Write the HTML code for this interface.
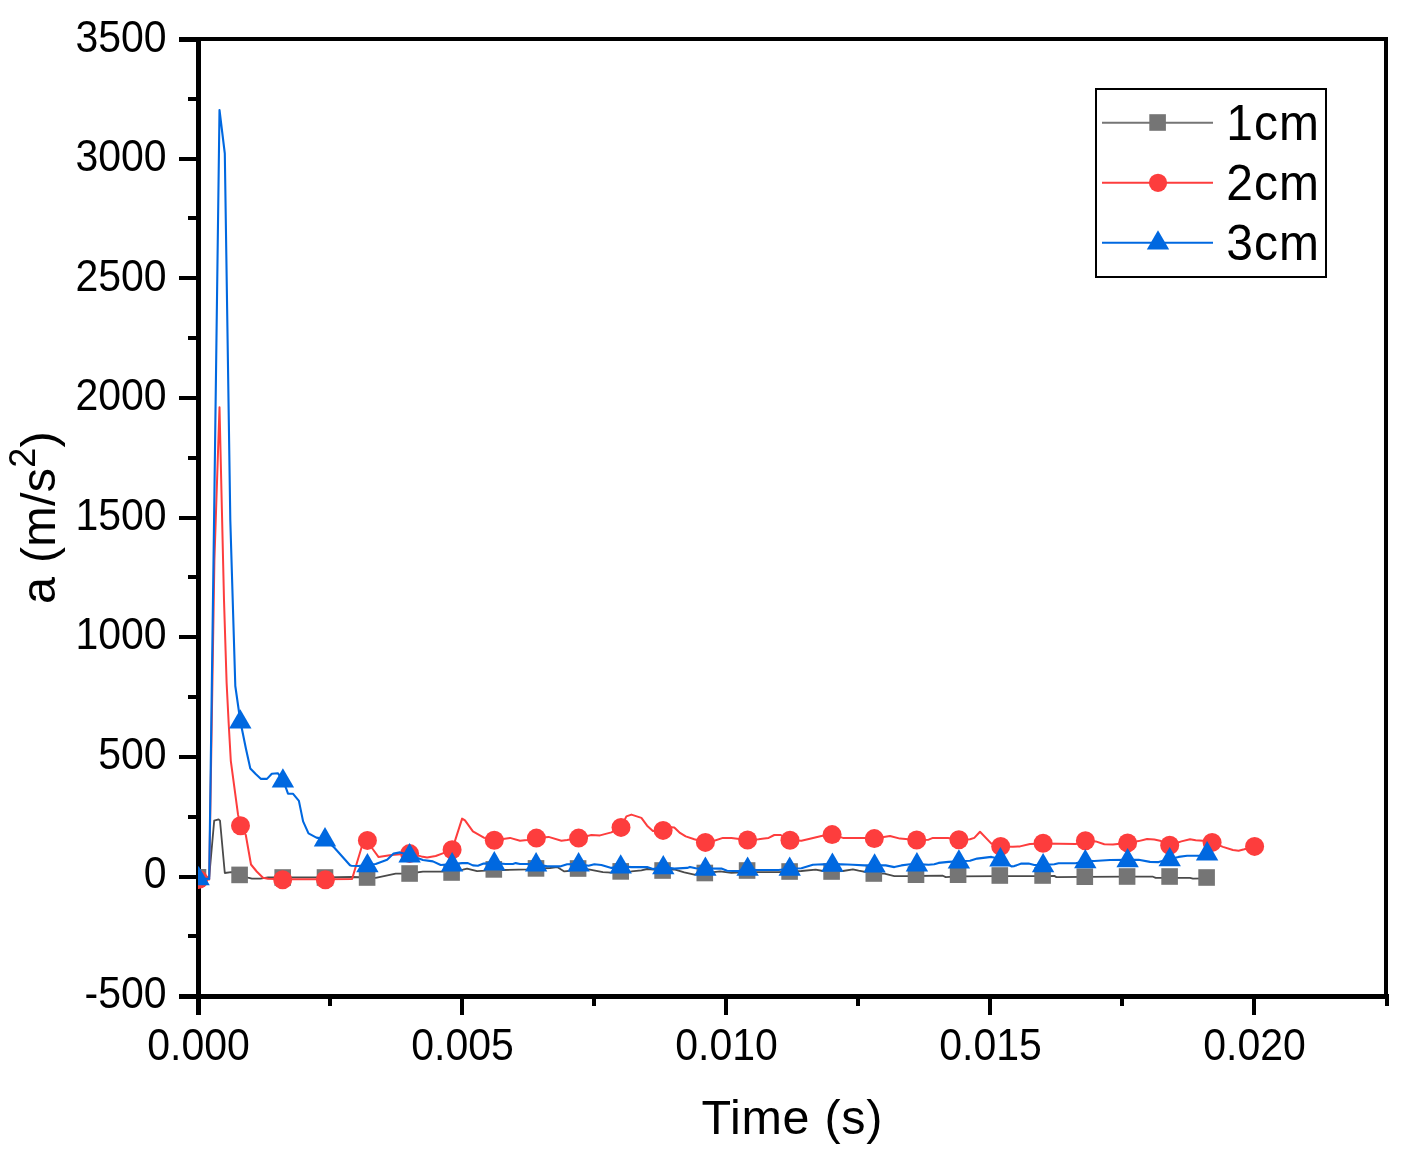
<!DOCTYPE html>
<html><head><meta charset="utf-8"><title>a vs Time</title>
<style>
html,body{margin:0;padding:0;background:#fff;overflow:hidden;}
svg{display:block;}
text{font-family:"Liberation Sans",sans-serif;fill:#000;}
.tk{font-size:41px;}
.ti{font-size:48.5px;letter-spacing:0.7px;}
.lg{font-size:48px;letter-spacing:1px;}
</style></head><body>
<svg width="1401" height="1164" viewBox="0 0 1401 1164">
<rect width="1401" height="1164" fill="#fff"/>
<defs><clipPath id="cp"><rect x="198" y="39" width="1188" height="958"/></clipPath></defs>
<g fill="#000" shape-rendering="crispEdges">
<rect x="196" y="37" width="5" height="962"/>
<rect x="196" y="994" width="1193" height="5"/>
<rect x="196" y="37" width="1192" height="4"/>
<rect x="1384" y="37" width="4" height="962"/>
<rect x="179" y="994" width="17" height="5"/>
<rect x="179" y="875" width="17" height="4"/>
<rect x="179" y="755" width="17" height="4"/>
<rect x="179" y="635" width="17" height="4"/>
<rect x="179" y="516" width="17" height="4"/>
<rect x="179" y="396" width="17" height="4"/>
<rect x="179" y="276" width="17" height="4"/>
<rect x="179" y="157" width="17" height="4"/>
<rect x="179" y="37" width="17" height="5"/>
<rect x="188" y="934" width="8" height="4"/>
<rect x="188" y="815" width="8" height="4"/>
<rect x="188" y="695" width="8" height="4"/>
<rect x="188" y="575" width="8" height="4"/>
<rect x="188" y="456" width="8" height="4"/>
<rect x="188" y="336" width="8" height="4"/>
<rect x="188" y="216" width="8" height="4"/>
<rect x="188" y="97" width="8" height="4"/>
<rect x="196" y="999" width="5" height="16"/>
<rect x="460" y="999" width="4" height="16"/>
<rect x="724" y="999" width="4" height="16"/>
<rect x="988" y="999" width="4" height="16"/>
<rect x="1252" y="999" width="4" height="16"/>
<rect x="328" y="999" width="4" height="7"/>
<rect x="592" y="999" width="4" height="7"/>
<rect x="856" y="999" width="4" height="7"/>
<rect x="1120" y="999" width="4" height="7"/>
<rect x="1385" y="999" width="4" height="7"/>
</g>
<text class="tk" transform="translate(166.6 1007.8) scale(1 1.09)" text-anchor="end">-500</text>
<text class="tk" transform="translate(166.6 888.3) scale(1 1.09)" text-anchor="end">0</text>
<text class="tk" transform="translate(166.6 768.8) scale(1 1.09)" text-anchor="end">500</text>
<text class="tk" transform="translate(166.6 649.3) scale(1 1.09)" text-anchor="end">1000</text>
<text class="tk" transform="translate(166.6 529.8) scale(1 1.09)" text-anchor="end">1500</text>
<text class="tk" transform="translate(166.6 410.3) scale(1 1.09)" text-anchor="end">2000</text>
<text class="tk" transform="translate(166.6 290.8) scale(1 1.09)" text-anchor="end">2500</text>
<text class="tk" transform="translate(166.6 171.3) scale(1 1.09)" text-anchor="end">3000</text>
<text class="tk" transform="translate(166.6 51.8) scale(1 1.09)" text-anchor="end">3500</text>
<text class="tk" transform="translate(198.5 1059.5) scale(1 1.09)" text-anchor="middle">0.000</text>
<text class="tk" transform="translate(462.5 1059.5) scale(1 1.09)" text-anchor="middle">0.005</text>
<text class="tk" transform="translate(726.5 1059.5) scale(1 1.09)" text-anchor="middle">0.010</text>
<text class="tk" transform="translate(990.5 1059.5) scale(1 1.09)" text-anchor="middle">0.015</text>
<text class="tk" transform="translate(1254.5 1059.5) scale(1 1.09)" text-anchor="middle">0.020</text>
<text class="ti" x="792.3" y="1133.9" text-anchor="middle">Time (s)</text>
<text class="ti" style="letter-spacing:0.25px" transform="translate(55.3 517.6) rotate(-90)" text-anchor="middle">a (m/s<tspan font-size="36px" dy="-20.5">2</tspan><tspan dy="20.5">)</tspan></text>
<g clip-path="url(#cp)">
<polyline points="198.6,878.5 203.9,878.0 209.2,877.0 214.2,820.6 218.6,819.3 220.0,820.6 224.8,873.0 231.2,872.2 235.6,873.0 239.6,874.9 248.0,877.7 251.9,878.6 260.4,878.6 268.0,877.3 282.7,877.3 325.0,877.3 352.0,877.0 367.1,877.5 375.7,877.9 395.7,873.6 409.6,873.5 422.9,871.7 442.9,871.7 451.6,872.0 462.9,869.7 467.1,868.6 477.1,871.1 485.7,870.7 493.8,869.8 502.9,870.0 528.6,869.3 536.0,868.6 550.0,868.0 557.1,867.1 564.3,871.4 578.1,870.0 588.6,869.3 602.9,872.1 611.4,872.6 620.7,871.6 631.4,871.4 641.4,870.3 647.1,869.0 662.6,870.3 674.3,869.3 684.3,872.4 694.3,874.6 704.8,873.2 720.0,871.4 731.4,872.9 747.1,872.0 757.1,872.1 778.6,872.1 789.6,871.6 801.4,871.0 815.7,869.7 822.9,871.0 831.6,871.3 842.9,871.0 852.9,869.3 858.6,870.7 873.8,873.5 884.3,873.6 894.3,876.1 908.6,876.1 916.0,876.0 942.9,875.7 945.7,877.1 958.1,876.3 999.8,876.1 1042.6,876.1 1054.3,875.9 1056.4,877.1 1084.8,876.9 1127.1,876.7 1153.0,876.7 1155.7,877.9 1169.6,877.9 1190.0,877.9 1192.9,878.6 1206.6,878.3" fill="none" stroke="#4a4a4a" stroke-width="1.8" stroke-linejoin="round"/>
<rect x="189.7" y="869.0" width="16.6" height="16.6" fill="#757575"/>
<rect x="231.3" y="866.6" width="16.6" height="16.6" fill="#757575"/>
<rect x="274.4" y="869.2" width="16.6" height="16.6" fill="#757575"/>
<rect x="316.7" y="869.2" width="16.6" height="16.6" fill="#757575"/>
<rect x="358.8" y="869.2" width="16.6" height="16.6" fill="#757575"/>
<rect x="401.3" y="865.2" width="16.6" height="16.6" fill="#757575"/>
<rect x="443.3" y="864.2" width="16.6" height="16.6" fill="#757575"/>
<rect x="485.5" y="861.1" width="16.6" height="16.6" fill="#757575"/>
<rect x="527.7" y="860.1" width="16.6" height="16.6" fill="#757575"/>
<rect x="569.8" y="860.2" width="16.6" height="16.6" fill="#757575"/>
<rect x="612.4" y="863.1" width="16.6" height="16.6" fill="#757575"/>
<rect x="654.3" y="862.2" width="16.6" height="16.6" fill="#757575"/>
<rect x="696.5" y="864.7" width="16.6" height="16.6" fill="#757575"/>
<rect x="738.8" y="862.2" width="16.6" height="16.6" fill="#757575"/>
<rect x="781.3" y="863.2" width="16.6" height="16.6" fill="#757575"/>
<rect x="823.3" y="863.2" width="16.6" height="16.6" fill="#757575"/>
<rect x="865.5" y="865.2" width="16.6" height="16.6" fill="#757575"/>
<rect x="907.7" y="866.4" width="16.6" height="16.6" fill="#757575"/>
<rect x="949.8" y="866.4" width="16.6" height="16.6" fill="#757575"/>
<rect x="991.5" y="867.2" width="16.6" height="16.6" fill="#757575"/>
<rect x="1034.3" y="867.2" width="16.6" height="16.6" fill="#757575"/>
<rect x="1076.5" y="868.4" width="16.6" height="16.6" fill="#757575"/>
<rect x="1118.8" y="868.2" width="16.6" height="16.6" fill="#757575"/>
<rect x="1161.3" y="868.2" width="16.6" height="16.6" fill="#757575"/>
<rect x="1198.3" y="869.2" width="16.6" height="16.6" fill="#757575"/>
<polyline points="198.6,879.5 203.9,879.5 209.2,879.5 214.4,560.0 219.5,407.2 224.0,600.0 225.6,651.0 226.6,682.5 228.7,723.7 230.8,760.8 238.0,814.4 240.5,825.7 245.8,835.0 251.0,864.5 256.7,871.5 263.0,877.7 268.0,878.8 282.7,879.2 325.4,879.2 352.1,878.9 357.3,861.5 362.3,845.0 367.4,840.4 372.7,849.0 378.6,857.1 391.4,855.0 409.6,853.6 421.4,856.4 427.1,857.4 435.7,856.0 442.1,853.6 452.1,849.7 455.7,838.6 462.1,818.6 465.0,820.4 472.9,831.4 484.3,837.9 494.3,840.3 510.0,837.9 520.0,840.7 527.1,840.0 536.4,838.1 548.6,836.9 561.4,840.7 567.1,840.0 578.6,838.1 591.4,835.0 600.0,835.4 611.4,832.4 621.0,827.4 626.4,816.4 631.4,814.6 641.4,817.9 647.1,825.7 652.9,831.0 663.1,830.4 668.5,827.0 674.3,827.5 680.0,832.9 685.7,836.4 694.3,839.3 705.4,842.4 712.0,841.5 722.9,837.9 731.4,838.1 747.6,840.0 758.6,839.3 768.6,837.9 774.3,835.0 780.7,835.0 790.0,840.3 801.4,840.7 811.0,838.5 821.4,836.0 832.1,834.6 842.9,837.9 865.7,837.9 874.3,838.6 890.0,836.0 900.0,838.6 916.7,840.0 928.6,839.7 932.9,837.9 948.0,837.9 958.9,839.7 970.0,839.3 974.3,837.9 980.0,831.7 991.4,843.6 1000.7,846.4 1012.9,846.7 1020.0,846.4 1030.0,844.0 1043.1,843.5 1075.7,844.0 1085.4,840.7 1095.7,841.4 1104.3,844.3 1112.9,844.6 1127.6,842.9 1138.6,841.1 1147.1,839.0 1154.3,839.6 1160.0,840.7 1169.7,845.3 1181.4,841.4 1190.0,839.3 1195.7,840.3 1202.9,840.7 1212.1,842.4 1222.9,846.9 1232.9,850.0 1238.6,850.7 1244.3,849.3 1254.6,846.4" fill="none" stroke="#fd3d3d" stroke-width="2.0" stroke-linejoin="round"/>
<circle cx="198.6" cy="879.5" r="9.5" fill="#fd3d3d"/>
<circle cx="240.5" cy="825.7" r="9.5" fill="#fd3d3d"/>
<circle cx="282.7" cy="879.7" r="9.5" fill="#fd3d3d"/>
<circle cx="325.4" cy="879.7" r="9.5" fill="#fd3d3d"/>
<circle cx="367.4" cy="840.4" r="9.5" fill="#fd3d3d"/>
<circle cx="409.6" cy="853.6" r="9.5" fill="#fd3d3d"/>
<circle cx="452.1" cy="849.7" r="9.5" fill="#fd3d3d"/>
<circle cx="494.3" cy="840.3" r="9.5" fill="#fd3d3d"/>
<circle cx="536.4" cy="838.1" r="9.5" fill="#fd3d3d"/>
<circle cx="578.6" cy="838.1" r="9.5" fill="#fd3d3d"/>
<circle cx="621.0" cy="827.4" r="9.5" fill="#fd3d3d"/>
<circle cx="663.1" cy="830.4" r="9.5" fill="#fd3d3d"/>
<circle cx="705.4" cy="842.4" r="9.5" fill="#fd3d3d"/>
<circle cx="747.6" cy="840.0" r="9.5" fill="#fd3d3d"/>
<circle cx="790.0" cy="840.3" r="9.5" fill="#fd3d3d"/>
<circle cx="832.1" cy="834.6" r="9.5" fill="#fd3d3d"/>
<circle cx="874.3" cy="838.6" r="9.5" fill="#fd3d3d"/>
<circle cx="916.7" cy="840.0" r="9.5" fill="#fd3d3d"/>
<circle cx="958.9" cy="839.7" r="9.5" fill="#fd3d3d"/>
<circle cx="1000.7" cy="846.4" r="9.5" fill="#fd3d3d"/>
<circle cx="1043.1" cy="843.3" r="9.5" fill="#fd3d3d"/>
<circle cx="1085.4" cy="840.7" r="9.5" fill="#fd3d3d"/>
<circle cx="1127.6" cy="842.9" r="9.5" fill="#fd3d3d"/>
<circle cx="1169.7" cy="845.3" r="9.5" fill="#fd3d3d"/>
<circle cx="1212.1" cy="842.4" r="9.5" fill="#fd3d3d"/>
<circle cx="1254.6" cy="846.4" r="9.5" fill="#fd3d3d"/>
<polyline points="198.6,878.0 203.9,878.5 209.2,879.0 214.4,494.5 219.5,110.0 224.8,153.5 230.3,520.0 235.3,686.0 240.3,721.0 246.0,749.0 250.3,768.4 255.7,774.0 261.0,778.9 267.0,778.9 271.8,773.8 277.8,773.2 282.9,780.2 286.3,788.9 288.0,793.7 292.9,793.7 298.9,800.9 303.1,821.4 308.5,833.4 316.4,837.6 325.0,839.1 334.4,847.8 350.0,865.3 351.4,865.7 358.6,866.0 367.4,864.9 375.7,864.0 387.1,859.7 393.6,853.6 400.0,852.4 409.6,855.1 422.9,860.0 432.9,861.4 440.7,865.0 452.1,864.1 462.1,863.1 467.9,863.1 472.9,865.4 477.9,865.7 483.6,863.6 494.3,863.1 505.7,864.0 512.9,864.0 515.7,863.1 520.0,864.0 536.1,864.0 547.0,866.4 560.0,866.4 567.1,864.3 578.6,864.0 588.6,865.7 594.3,864.3 601.4,865.0 611.4,867.9 620.7,866.3 631.4,867.1 647.1,867.1 652.9,869.0 663.3,867.0 674.3,868.6 687.1,867.9 690.0,866.9 695.7,868.3 705.4,868.5 721.4,868.6 727.1,870.7 738.6,871.1 747.6,869.5 757.0,870.0 778.6,870.0 789.7,868.8 801.4,868.3 812.9,864.7 822.9,864.3 832.4,864.4 841.4,864.3 852.9,864.7 864.3,865.4 874.6,865.3 885.7,865.4 894.3,867.1 901.4,865.4 910.0,864.3 916.9,864.1 928.6,864.7 934.3,864.3 938.6,862.9 948.6,861.9 958.9,861.3 970.0,860.7 977.1,858.6 991.4,856.9 1000.4,859.0 1011.4,866.4 1014.3,866.1 1021.4,863.6 1028.6,863.6 1034.3,865.0 1043.1,864.9 1054.3,864.3 1058.6,863.3 1075.7,863.3 1085.3,860.9 1094.3,861.0 1110.0,860.0 1127.6,859.9 1138.6,859.7 1150.0,861.9 1158.6,862.1 1169.7,859.0 1178.6,856.9 1187.1,855.7 1200.0,855.7 1207.1,853.3" fill="none" stroke="#0068e0" stroke-width="2.1" stroke-linejoin="round"/>
<polygon points="198.6,866.0 187.4,885.3 209.8,885.3" fill="#0068e0"/>
<polygon points="240.3,709.3 229.1,728.6 251.5,728.6" fill="#0068e0"/>
<polygon points="282.9,768.2 271.7,787.5 294.1,787.5" fill="#0068e0"/>
<polygon points="325.0,827.1 313.8,846.4 336.2,846.4" fill="#0068e0"/>
<polygon points="367.4,852.9 356.2,872.2 378.6,872.2" fill="#0068e0"/>
<polygon points="409.6,843.1 398.4,862.4 420.8,862.4" fill="#0068e0"/>
<polygon points="452.1,852.1 440.9,871.4 463.3,871.4" fill="#0068e0"/>
<polygon points="494.3,851.1 483.1,870.4 505.5,870.4" fill="#0068e0"/>
<polygon points="536.1,852.1 524.9,871.4 547.3,871.4" fill="#0068e0"/>
<polygon points="578.6,852.1 567.4,871.4 589.8,871.4" fill="#0068e0"/>
<polygon points="620.7,854.3 609.5,873.6 631.9,873.6" fill="#0068e0"/>
<polygon points="663.3,855.0 652.1,874.3 674.5,874.3" fill="#0068e0"/>
<polygon points="705.4,856.4 694.2,875.7 716.6,875.7" fill="#0068e0"/>
<polygon points="747.6,856.4 736.4,875.7 758.8,875.7" fill="#0068e0"/>
<polygon points="789.7,856.4 778.5,875.7 800.9,875.7" fill="#0068e0"/>
<polygon points="832.4,852.4 821.2,871.7 843.6,871.7" fill="#0068e0"/>
<polygon points="874.6,853.3 863.4,872.6 885.8,872.6" fill="#0068e0"/>
<polygon points="916.9,852.1 905.7,871.4 928.1,871.4" fill="#0068e0"/>
<polygon points="958.9,849.3 947.7,868.6 970.1,868.6" fill="#0068e0"/>
<polygon points="1000.4,847.1 989.2,866.4 1011.6,866.4" fill="#0068e0"/>
<polygon points="1043.1,852.9 1031.9,872.2 1054.3,872.2" fill="#0068e0"/>
<polygon points="1085.3,848.9 1074.1,868.2 1096.5,868.2" fill="#0068e0"/>
<polygon points="1127.6,847.9 1116.4,867.2 1138.8,867.2" fill="#0068e0"/>
<polygon points="1169.7,846.9 1158.5,866.2 1180.9,866.2" fill="#0068e0"/>
<polygon points="1207.1,841.1 1195.9,860.4 1218.3,860.4" fill="#0068e0"/>
</g>
<rect x="1095.9" y="88.8" width="230.3" height="188.3" fill="#fff" stroke="#000" stroke-width="1.9" shape-rendering="crispEdges"/>
<line x1="1102" y1="122.7" x2="1213" y2="122.7" stroke="#757575" stroke-width="2"/>
<rect x="1149.3" y="114.2" width="16.6" height="16.6" fill="#757575"/>
<text class="lg" transform="translate(1226.2 139.9) scale(1 1.035)">1cm</text>
<line x1="1102" y1="182.7" x2="1213" y2="182.7" stroke="#fd3d3d" stroke-width="2"/>
<circle cx="1158" cy="182.79999999999998" r="9.1" fill="#fd3d3d"/>
<text class="lg" transform="translate(1226.2 199.9) scale(1 1.035)">2cm</text>
<line x1="1102" y1="242.7" x2="1213" y2="242.7" stroke="#0068e0" stroke-width="2"/>
<polygon points="1158.0,230.2 1146.8,249.5 1169.2,249.5" fill="#0068e0"/>
<text class="lg" transform="translate(1226.2 259.9) scale(1 1.035)">3cm</text>
</svg></body></html>
